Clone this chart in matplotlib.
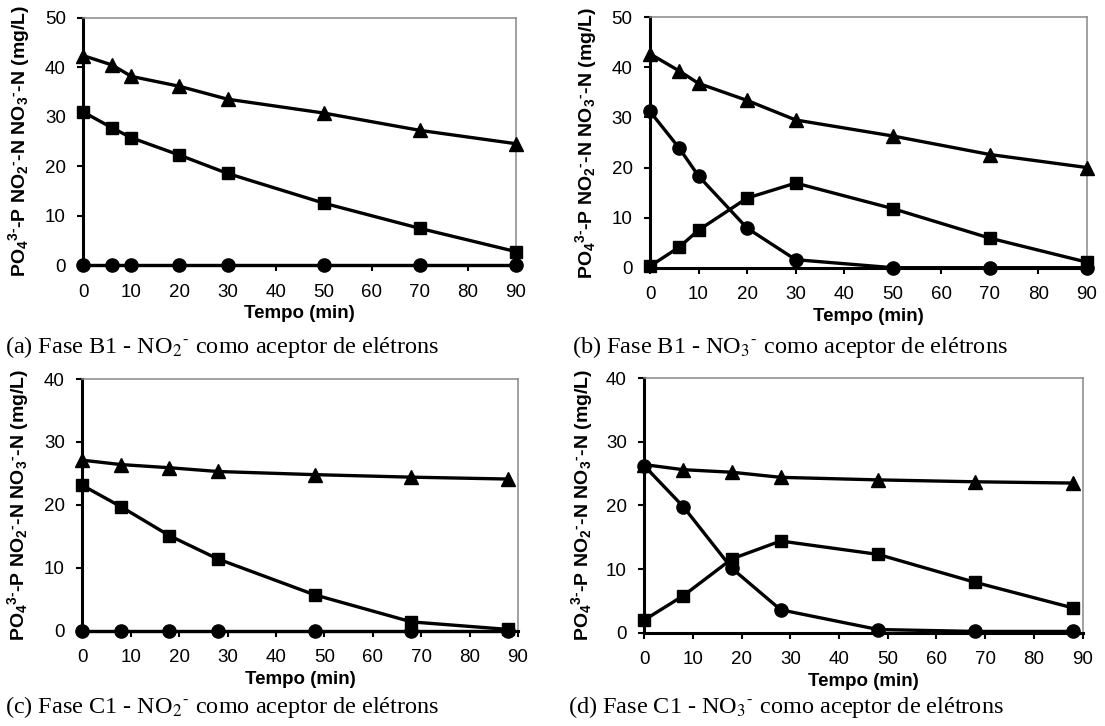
import matplotlib
matplotlib.use("Agg")
import matplotlib.pyplot as plt
from matplotlib.font_manager import FontProperties
from matplotlib.transforms import blended_transform_factory

plt.rcParams['font.family'] = 'Liberation Sans'
plt.rcParams['mathtext.fontset'] = 'custom'
plt.rcParams['mathtext.rm'] = 'Liberation Sans:bold'
plt.rcParams['mathtext.it'] = 'Liberation Sans:bold'
plt.rcParams['mathtext.bf'] = 'Liberation Sans:bold'

# data
t_b1 = [0, 6, 10, 20, 30, 50, 70, 90]
t_c1 = [0, 8, 18, 28, 48, 68, 88]

# (a) fase B1, NO2-
a_tri = [42.3, 40.4, 38.1, 36.1, 33.5, 30.7, 27.2, 24.5]
a_sq = [30.9, 27.7, 25.7, 22.2, 18.5, 12.5, 7.4, 2.7]
a_circ = [0, 0, 0, 0, 0, 0, 0, 0]

# (b) fase B1, NO3-
b_tri = [42.7, 39.3, 36.8, 33.4, 29.5, 26.3, 22.6, 20.0]
b_sq = [0.3, 4.1, 7.5, 13.9, 16.9, 11.8, 5.9, 1.1]
b_circ = [31.2, 23.9, 18.3, 7.9, 1.6, 0, 0, 0]

# (c) fase C1, NO2-
c_tri = [27.1, 26.4, 25.9, 25.3, 24.8, 24.4, 24.1]
c_sq = [23.1, 19.7, 15.1, 11.4, 5.7, 1.4, 0.2]
c_circ = [0, 0, 0, 0, 0, 0, 0]

# (d) fase C1, NO3-
d_tri = [26.4, 25.6, 25.2, 24.4, 24.0, 23.7, 23.5]
d_sq = [2.0, 5.8, 11.6, 14.4, 12.3, 7.9, 3.9]
d_circ = [26.2, 19.8, 10.1, 3.6, 0.5, 0.2, 0.2]

xticks = [0, 10, 20, 30, 40, 50, 60, 70, 80, 90]
ylabel = r"PO$_4{}^{3\text{-}}$-P NO$_2{}^{\text{-}}$-N NO$_3{}^{\text{-}}$-N (mg/L)"
captions = [r"(a) Fase B1 - NO$_2{}^{\text{-}}$ como aceptor de elétrons",
            r"(b) Fase B1 - NO$_3{}^{\text{-}}$ como aceptor de elétrons",
            r"(c) Fase C1 - NO$_2{}^{\text{-}}$ como aceptor de elétrons",
            r"(d) Fase C1 - NO$_3{}^{\text{-}}$ como aceptor de elétrons"]

W, H = 1105, 726
fig = plt.figure(figsize=(W / 100, H / 100), dpi=100)

# axes boxes in pixels: left, top, right, bottom
boxes = [(83.3, 17.5, 516, 265), (650, 17.3, 1087, 267.7),
         (82.3, 379, 518, 630.7), (644.3, 378, 1082.5, 632.7)]
panels = [(t_b1, a_tri, a_sq, a_circ, 50), (t_b1, b_tri, b_sq, b_circ, 50),
          (t_c1, c_tri, c_sq, c_circ, 40), (t_c1, d_tri, d_sq, d_circ, 40)]
ylab_x = [32, 599, 31, 595]
cap_pos = [(5, 353), (572, 353), (5, 713), (568, 713)]

for i, (t, tri, sq, circ, ymax) in enumerate(panels):
    l, tp, r, b = boxes[i]
    ax = fig.add_axes([l / W, 1 - b / H, (r - l) / W, (b - tp) / H])
    for y, m, ms in [(tri, '^', 10), (sq, 's', 9), (circ, 'o', 9.5)]:
        ax.plot(t, y, color='black', lw=2.4, marker=m, markersize=ms,
                clip_on=False, zorder=3)
    ax.set_xlim(0, 90)
    ax.set_ylim(0, ymax)
    ax.set_xticks(xticks)
    ax.set_yticks(range(0, ymax + 1, 10))
    ax.tick_params(labelsize=13.5, direction='out', length=4.5, width=1.5)
    ax.tick_params(axis='x', pad=9)
    ax.tick_params(axis='y', pad=8)
    for s in ['left', 'bottom']:
        ax.spines[s].set_linewidth(2.2)
        ax.spines[s].set_color('black')
    for s in ['top', 'right']:
        ax.spines[s].set_linewidth(1.1)
        ax.spines[s].set_color('#888888')
    ax.set_xlabel('Tempo (min)', fontsize=13.5, fontweight='bold', labelpad=3)
    ax.set_ylabel(ylabel, fontsize=14, fontweight='bold')
    ax.yaxis.set_label_coords(ylab_x[i] / W, 0.5,
                              transform=blended_transform_factory(fig.transFigure, ax.transAxes))
    fp = FontProperties(family='Liberation Serif', size=17.5, math_fontfamily='stix')
    x, y = cap_pos[i]
    fig.text(x / W, 1 - y / H, captions[i], fontproperties=fp,
             ha='left', va='baseline')

fig.savefig('out.png', dpi=100)
